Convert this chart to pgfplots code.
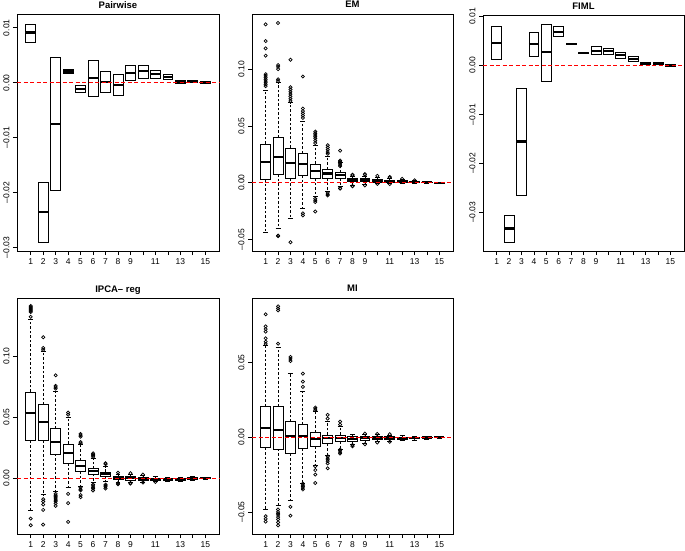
\documentclass[border=0pt]{standalone}
\usepackage{pgfplots}
\pgfplotsset{compat=1.18}
\usepgfplotslibrary{statistics}
\usepackage{fontspec}
\setmainfont{Liberation Sans}
% values are given in units of 0.01 (tick labels show the original scale)
\pgfplotsset{
 rbox/.style={
  scale only axis,
  xmin=-0.1, xmax=16.1,
  xtick={1,...,15},
  xticklabels={1,2,3,4,5,6,7,8,9,,11,,13,,15},
  xtick pos=left, ytick pos=left,
  tick align=outside,
  major tick length=4pt,
  every tick/.style={black, line width=0.7pt},
  axis line style={black, line width=0.9pt},
  tick label style={font=\fontsize{8.5}{10}\selectfont},
  yticklabel style={rotate=90, anchor=south},
  xticklabel style={anchor=north},
  title style={font=\fontsize{9.5}{11}\selectfont\bfseries, at={(0.5,1)}, anchor=base, yshift=0pt},
 },
 zax/.style={scale only axis, hide axis, clip=false, xmin=-0.1, xmax=16.1},
 bp/.style={black, line width=0.75pt, fill=white, solid,
  mark=o, mark size=1.6pt, mark options={solid, line width=0.7pt},
  boxplot/draw direction=y,
  boxplot/box extend=0.8, boxplot/whisker extend=0.4,
  boxplot/every median/.style={line width=2.2pt},
  boxplot/draw/lower whisker/.code={%
    \draw[dash pattern=on 2.5pt off 2pt] (boxplot box cs:\pgfplotsboxplotvalue{lower quartile},0.5) -- (boxplot box cs:\pgfplotsboxplotvalue{lower whisker},0.5);
    \draw[solid] (boxplot whisker cs:\pgfplotsboxplotvalue{lower whisker},0) -- (boxplot whisker cs:\pgfplotsboxplotvalue{lower whisker},1);},
  boxplot/draw/upper whisker/.code={%
    \draw[dash pattern=on 2.5pt off 2pt] (boxplot box cs:\pgfplotsboxplotvalue{upper quartile},0.5) -- (boxplot box cs:\pgfplotsboxplotvalue{upper whisker},0.5);
    \draw[solid] (boxplot whisker cs:\pgfplotsboxplotvalue{upper whisker},0) -- (boxplot whisker cs:\pgfplotsboxplotvalue{upper whisker},1);},
 },
}
% position, lower whisker, lower quartile, median, upper quartile, upper whisker, outliers
\newcommand\bx[7]{\addplot[bp, boxplot prepared={draw position=#1, lower whisker=#2, lower quartile=#3, median=#4, upper quartile=#5, upper whisker=#6}] coordinates {#7};}
\newcommand\zl{\addplot[draw=red, line width=1.3pt, dash pattern=on 4pt off 2.5pt, mark=none, forget plot] coordinates {(-0.1,0) (16.1,0)};}
\begin{document}
\begin{tikzpicture}
\path[use as bounding box] (0pt,0pt) rectangle (685pt,-551pt);
% ---------------- Pairwise
\begin{axis}[rbox, at={(17pt,-251pt)}, anchor=south west, width=202pt, height=237pt,
  ymin=-3.06, ymax=1.25, ytick={-3,-2,-1,0,1},
  yticklabels={–0.03,–0.02,–0.01,0.00,0.01}, title={Pairwise}]
\bx{1}{0.739}{0.739}{0.915}{1.067}{1.067}{}
\bx{2}{-2.903}{-2.903}{-2.352}{-1.806}{-1.806}{}
\bx{3}{-1.958}{-1.958}{-0.745}{0.461}{0.461}{}
\bx{4}{0.17}{0.17}{0.206}{0.242}{0.242}{}
\bx{5}{-0.176}{-0.176}{-0.109}{-0.048}{-0.048}{}
\bx{6}{-0.248}{-0.248}{0.091}{0.412}{0.412}{}
\bx{7}{-0.182}{-0.182}{0.018}{0.206}{0.206}{}
\bx{8}{-0.236}{-0.236}{-0.048}{0.158}{0.158}{}
\bx{9}{0.042}{0.042}{0.182}{0.315}{0.315}{}
\bx{10}{0.079}{0.079}{0.218}{0.309}{0.309}{}
\bx{11}{0.085}{0.085}{0.152}{0.23}{0.23}{}
\bx{12}{0.061}{0.061}{0.103}{0.145}{0.145}{}
\bx{13}{-0.012}{-0.012}{0.018}{0.036}{0.036}{}
\bx{14}{0.0}{0.0}{0.024}{0.036}{0.036}{}
\bx{15}{-0.018}{-0.018}{0.0}{0.018}{0.018}{}
\end{axis}
\begin{axis}[zax, at={(17pt,-251pt)}, anchor=south west, width=202pt, height=237pt, ymin=-3.06, ymax=1.25]
\zl
\end{axis}
% ---------------- EM
\begin{axis}[rbox, at={(252pt,-251pt)}, anchor=south west, width=201pt, height=237pt,
  ymin=-6.01, ymax=14.85, ytick={-5,0,5,10},
  yticklabels={–0.05,0.00,0.05,0.10}, title={EM}]
\bx{1}{-4.41}{0.29}{1.82}{3.41}{8.12}{(0,13.94)(0,12.47)(0,11.82)(0,11.18)(0,9.55)(0,9.4)(0,9.25)(0,9.1)(0,8.95)(0,8.8)(0,8.65)(0,8.5)}
\bx{2}{-4.06}{0.76}{2.29}{4.0}{8.82}{(0,14.06)(0,10.35)(0,10.2)(0,10.0)(0,9.1)(0,8.95)(0,-4.65)(0,-4.7)}
\bx{3}{-3.12}{0.35}{1.71}{3.06}{7.06}{(0,10.82)(0,8.4)(0,8.2)(0,8.0)(0,7.8)(0,7.6)(0,7.4)(0,7.2)(0,-5.24)}
\bx{4}{-2.29}{0.65}{1.65}{2.59}{5.41}{(0,9.35)(0,6.53)(0,6.3)(0,6.1)(0,5.9)(0,5.7)(0,-2.7)(0,-2.88)}
\bx{5}{-1.24}{0.41}{1.0}{1.65}{3.29}{(0,4.5)(0,4.35)(0,4.2)(0,4.05)(0,3.9)(0,3.7)(0,3.5)(0,-1.41)(0,-1.55)(0,-1.7)(0,-2.53)}
\bx{6}{-0.76}{0.41}{0.82}{1.18}{2.35}{(0,3.3)(0,3.1)(0,2.9)(0,2.7)(0,2.55)(0,-0.9)(0,-1.02)(0,-1.12)}
\bx{7}{-0.35}{0.41}{0.71}{0.88}{1.82}{(0,2.82)(0,1.95)(0,1.85)(0,1.75)(0,1.65)(0,1.55)(0,1.45)(0,-0.47)(0,-0.52)}
\bx{8}{-0.24}{0.12}{0.24}{0.35}{0.59}{(0,0.7)(0,0.65)(0,-0.28)(0,-0.32)}
\bx{9}{-0.18}{0.12}{0.24}{0.35}{0.59}{(0,0.76)(0,0.7)(0,-0.24)}
\bx{10}{-0.06}{0.06}{0.18}{0.29}{0.47}{(0,0.6)(0,-0.1)}
\bx{11}{-0.06}{0.06}{0.15}{0.24}{0.41}{(0,0.47)(0,0.5)(0,-0.12)}
\bx{12}{-0.03}{0.06}{0.12}{0.18}{0.29}{(0,0.35)}
\bx{13}{-0.03}{0.0}{0.06}{0.09}{0.18}{(0,0.21)}
\bx{14}{-0.03}{0.0}{0.03}{0.06}{0.12}{}
\bx{15}{-0.06}{-0.03}{0.0}{0.03}{0.06}{}
\end{axis}
\begin{axis}[zax, at={(252pt,-251pt)}, anchor=south west, width=201pt, height=237pt, ymin=-6.01, ymax=14.85]
\zl
\end{axis}
% ---------------- FIML
\begin{axis}[rbox, at={(483pt,-251pt)}, anchor=south west, width=201pt, height=236pt,
  ymin=-3.79, ymax=1.03, ytick={-3,-2,-1,0,1},
  yticklabels={–0.03,–0.02,–0.01,0.00,0.01}, title={FIML}]
\bx{1}{0.123}{0.123}{0.464}{0.791}{0.791}{}
\bx{2}{-3.615}{-3.615}{-3.329}{-3.056}{-3.056}{}
\bx{3}{-2.66}{-2.66}{-1.555}{-0.464}{-0.464}{}
\bx{4}{0.177}{0.177}{0.437}{0.668}{0.668}{}
\bx{5}{-0.327}{-0.327}{0.273}{0.846}{0.846}{}
\bx{6}{0.6}{0.6}{0.682}{0.791}{0.791}{}
\bx{7}{0.423}{0.423}{0.437}{0.45}{0.45}{}
\bx{8}{0.245}{0.245}{0.259}{0.273}{0.273}{}
\bx{9}{0.232}{0.232}{0.3}{0.382}{0.382}{}
\bx{10}{0.232}{0.232}{0.3}{0.341}{0.341}{}
\bx{11}{0.15}{0.15}{0.205}{0.259}{0.259}{}
\bx{12}{0.082}{0.082}{0.136}{0.177}{0.177}{}
\bx{13}{0.014}{0.014}{0.041}{0.055}{0.055}{}
\bx{14}{0.014}{0.014}{0.027}{0.055}{0.055}{}
\bx{15}{-0.027}{-0.027}{-0.007}{0.014}{0.014}{}
\end{axis}
\begin{axis}[zax, at={(483pt,-251pt)}, anchor=south west, width=201pt, height=236pt, ymin=-3.79, ymax=1.03]
\zl
\end{axis}
% ---------------- IPCA-reg
\begin{axis}[rbox, at={(17pt,-534pt)}, anchor=south west, width=202pt, height=236pt,
  ymin=-4.56, ymax=14.74, ytick={0,5,10},
  yticklabels={0.00,0.05,0.10}, title={IPCA– reg}]
\bx{1}{-2.64}{3.08}{5.31}{7.06}{13.0}{(0,14.09)(0,14.0)(0,13.92)(0,13.84)(0,13.76)(0,13.68)(0,13.6)(0,13.2)(0,-3.3)(0,-3.84)}
\bx{2}{-1.34}{3.08}{4.6}{6.02}{10.38}{(0,11.53)(0,10.65)(0,10.5)(0,-1.72)(0,-1.9)(0,-2.15)(0,-2.59)(0,-3.79)}
\bx{3}{-1.06}{1.99}{2.97}{4.06}{7.13}{(0,8.42)(0,7.55)(0,7.45)(0,7.33)(0,-1.28)(0,-1.4)(0,-1.5)(0,-1.6)(0,-1.7)(0,-1.8)(0,-1.9)(0,-2.05)(0,-2.26)}
\bx{4}{-0.74}{1.23}{2.04}{2.81}{5.0}{(0,5.37)(0,5.2)(0,-1.28)(0,-2.04)(0,-3.57)}
\bx{5}{-0.63}{0.57}{1.01}{1.44}{2.75}{(0,3.62)(0,3.52)(0,3.4)(0,2.95)(0,2.85)(0,-0.74)(0,-0.9)(0,-1.0)(0,-1.38)(0,-1.55)}
\bx{6}{-0.3}{0.35}{0.57}{0.79}{1.63}{(0,2.04)(0,1.95)(0,1.85)(0,1.75)(0,-0.52)(0,-0.63)(0,-0.74)(0,-0.85)(0,-1.0)}
\bx{7}{-0.25}{0.19}{0.35}{0.52}{0.95}{(0,1.23)(0,1.15)(0,-0.52)(0,-0.6)(0,-0.7)(0,-0.84)}
\bx{8}{-0.35}{-0.08}{0.03}{0.19}{0.35}{(0,0.46)(0,-0.41)(0,-0.5)}
\bx{9}{-0.33}{-0.14}{0.0}{0.14}{0.30}{(0,0.41)(0,-0.38)(0,-0.44)}
\bx{10}{-0.3}{-0.14}{-0.03}{0.08}{0.25}{(0,-0.35)(0,0.3)}
\bx{11}{-0.25}{-0.14}{-0.05}{0.03}{0.14}{(0,-0.3)}
\bx{12}{-0.22}{-0.14}{-0.08}{0.03}{0.11}{}
\bx{13}{-0.22}{-0.14}{-0.08}{0.0}{0.08}{}
\bx{14}{-0.14}{-0.08}{0.0}{0.08}{0.14}{}
\bx{15}{-0.08}{-0.05}{0.0}{0.05}{0.08}{}
\end{axis}
\begin{axis}[zax, at={(17pt,-534pt)}, anchor=south west, width=202pt, height=236pt, ymin=-4.56, ymax=14.74]
\zl
\end{axis}
% ---------------- MI
\begin{axis}[rbox, at={(252pt,-534pt)}, anchor=south west, width=201pt, height=236pt,
  ymin=-6.48, ymax=9.33, ytick={-5,0,5},
  yticklabels={–0.05,0.00,0.05}, title={MI}]
\bx{1}{-4.84}{-0.69}{0.6}{2.08}{6.14}{(0,8.24)(0,7.43)(0,7.25)(0,7.08)(0,6.63)(0,6.4)(0,6.25)(0,-5.29)(0,-5.47)(0,-5.65)}
\bx{2}{-4.58}{-0.78}{0.51}{2.08}{6.05}{(0,8.77)(0,8.63)(0,8.5)(0,6.27)(0,-4.84)(0,-5.0)(0,-5.1)(0,-5.2)(0,-5.35)(0,-5.5)(0,-5.7)(0,-5.9)}
\bx{3}{-4.26}{-1.09}{0.07}{1.05}{4.31}{(0,5.38)(0,5.25)(0,5.11)(0,-4.66)(0,-5.25)}
\bx{4}{-3.06}{-0.74}{0.11}{0.87}{3.1}{(0,4.26)(0,3.73)(0,3.37)(0,-3.1)(0,-3.2)(0,-3.3)(0,-3.4)(0,-3.5)}
\bx{5}{-1.85}{-0.6}{-0.11}{0.33}{1.72}{(0,1.99)(0,1.9)(0,1.81)(0,-1.94)(0,-2.2)(0,-2.5)(0,-3.06)}
\bx{6}{-1.18}{-0.42}{-0.07}{0.16}{1.09}{(0,1.5)(0,1.25)(0,-1.27)(0,-1.4)(0,-1.5)(0,-1.6)(0,-1.75)(0,-2.08)}
\bx{7}{-0.78}{-0.25}{-0.07}{0.16}{0.74}{(0,1.05)(0,0.85)(0,-0.83)(0,-0.9)(0,-1.0)(0,-1.09)}
\bx{8}{-0.47}{-0.25}{-0.11}{0.07}{0.2}{(0,-0.6)(0,-0.52)}
\bx{9}{-0.38}{-0.2}{-0.07}{0.07}{0.2}{(0,-0.47)(0,0.25)}
\bx{10}{-0.3}{-0.16}{-0.04}{0.07}{0.18}{(0,0.22)(0,-0.35)}
\bx{11}{-0.25}{-0.11}{-0.02}{0.07}{0.16}{(0,0.2)(0,-0.3)}
\bx{12}{-0.2}{-0.11}{-0.04}{0.02}{0.11}{}
\bx{13}{-0.18}{-0.09}{-0.04}{0.02}{0.09}{}
\bx{14}{-0.11}{-0.04}{-0.02}{0.02}{0.07}{}
\bx{15}{-0.09}{-0.04}{0.0}{0.02}{0.07}{}
\end{axis}
\begin{axis}[zax, at={(252pt,-534pt)}, anchor=south west, width=201pt, height=236pt, ymin=-6.48, ymax=9.33]
\zl
\end{axis}
\end{tikzpicture}
\end{document}
